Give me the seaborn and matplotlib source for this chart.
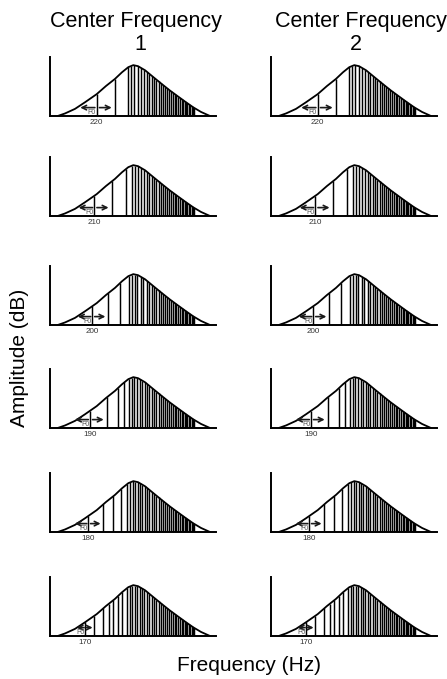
import numpy as np
import matplotlib
matplotlib.use("Agg")
import matplotlib.pyplot as plt
import seaborn as sns

# Fundamental frequency shown under each row (Hz)
f0_values = [220, 210, 200, 190, 180, 170]

# Column headings
column_titles = ["Center Frequency", "Center Frequency"]
column_numbers = ["1", "2"]

# Spectral envelope (position along frequency axis, relative amplitude)
env_x = [7.7, 15, 25, 35, 46.7, 56, 65, 72, 78.3, 83.3, 88, 95, 103,
         111.7, 120, 128.3, 136, 143.3, 151, 160]
env_y = [0.0, 0.05, 0.14, 0.27, 0.43, 0.59, 0.73, 0.86, 0.96, 1.0, 0.98,
         0.90, 0.77, 0.63, 0.50, 0.38, 0.27, 0.17, 0.08, 0.0]

# Harmonic positions: low (resolved) harmonics per row, then the dense upper ones
low_harmonics = {
    220: [46.7, 65.0, 78.3, 81.3, 84.3, 87.7, 91.0, 94.0],
    210: [44.3, 61.7, 76.0, 82.3, 85.0, 88.0, 91.0, 94.0],
    200: [42.3, 58.3, 70.0, 79.3, 81.7, 85.0, 87.3, 90.7, 93.3],
    190: [40.0, 56.7, 67.7, 74.3, 79.0, 81.7, 84.3, 87.0, 90.0, 92.3, 94.5],
    180: [38.3, 53.3, 63.3, 71.0, 76.7, 80.0, 82.7, 85.0, 87.7, 90.0, 92.3, 94.5],
    170: [35.0, 44.3, 53.3, 59.0, 63.3, 67.7, 72.3, 76.7, 80.0, 82.3, 85.0,
          87.3, 89.7, 92.0, 94.3],
}
high_harmonics = [96.7, 99.2, 101.6, 104.0, 106.3, 108.5, 110.7, 112.8, 114.9,
                  116.9, 118.9, 120.8, 122.7, 124.5, 126.3, 128.1, 129.8, 131.5,
                  133.0, 134.5, 136.0, 137.4, 138.8, 140.2, 141.6, 143.0, 144.2]

sns.set_theme(style="white")
plt.rcParams["font.family"] = ["Liberation Sans", "DejaVu Sans"]

W, H = 447, 679
fig = plt.figure(figsize=(W / 100, H / 100), dpi=100)

col_left = [50, 271]
panel_w, panel_h = 166, 59
baselines = [116, 216, 325, 428, 532, 636]
ytop = 1.16

env_x_arr = np.array(env_x)
env_y_arr = np.array(env_y)

for r, f0 in enumerate(f0_values):
    harm = np.array(low_harmonics[f0] + high_harmonics)
    heights = np.interp(harm, env_x_arr, env_y_arr)
    for c in range(2):
        ax = fig.add_axes([col_left[c] / W, 1 - baselines[r] / H,
                           panel_w / W, panel_h / H])
        ax.vlines(harm, 0, heights, color="black", lw=1.05)
        sns.lineplot(x=env_x_arr, y=env_y_arr, ax=ax, color="black",
                     lw=1.3, sort=False, estimator=None)
        ax.set_xlim(0, panel_w)
        ax.set_ylim(0, ytop)
        ax.set_xticks([])
        ax.set_yticks([])
        ax.set_xlabel("")
        ax.set_ylabel("")
        for side in ("top", "right"):
            ax.spines[side].set_visible(False)
        for side in ("left", "bottom"):
            ax.spines[side].set_color("black")
            ax.spines[side].set_linewidth(1.4)

        # F0 spacing arrows around the first harmonic
        h1, h2 = harm[0], harm[1]
        gap = h2 - h1
        ay = 0.165
        arrow_kw = dict(arrowstyle="->", lw=1.2, color="#1a1a1a",
                        shrinkA=0, shrinkB=0, mutation_scale=8)
        ax.annotate("", xy=(h1 - 0.9 * gap, ay), xytext=(h1 - 0.1 * gap, ay),
                    arrowprops=arrow_kw)
        ax.annotate("", xy=(h2 - 0.18 * gap, ay), xytext=(h1 + 0.15 * gap, ay),
                    arrowprops=arrow_kw)
        ax.text(h1 - 0.8, 0.065, "F0", fontsize=5, color="#555555",
                ha="right", va="center")
        ax.text(h1, -0.12, str(f0), fontsize=5.8, color="#333333",
                ha="center", va="center", clip_on=False)

# Column headings
title_x = [135.8, 360.8]
number_x = [140.0, 356.0]
for c in range(2):
    fig.text(title_x[c] / W, 1 - 27 / H, column_titles[c], fontsize=15.5,
             ha="center", va="baseline", color="black")
    fig.text(number_x[c] / W, 1 - 50 / H, column_numbers[c], fontsize=15.5,
             ha="center", va="baseline", color="black")

fig.text(20 / W, 1 - 358 / H, "Amplitude (dB)", fontsize=15, rotation=90,
         ha="center", va="center", color="black")
fig.text(249 / W, 1 - 671 / H, "Frequency (Hz)", fontsize=15,
         ha="center", va="baseline", color="black")

fig.savefig("out.png", dpi=100)
